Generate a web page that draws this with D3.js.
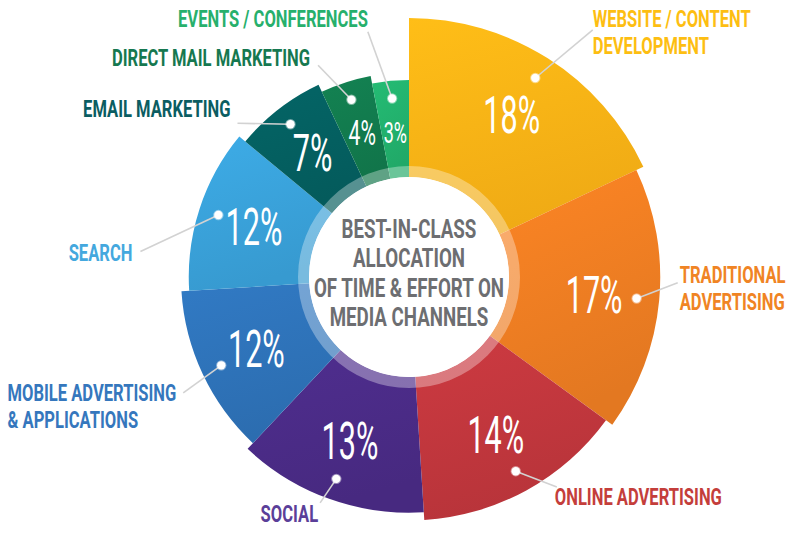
<!DOCTYPE html>
<html><head><meta charset="utf-8">
<script src="https://cdn.jsdelivr.net/npm/d3@7"></script>
<style>html,body{margin:0;padding:0;background:#fff;} svg{display:block;}</style>
</head><body>
<svg id="chart" width="800" height="538"></svg>
<script>
// ---- DATA ----
const categories = [
  "WEBSITE / CONTENT\nDEVELOPMENT",
  "TRADITIONAL\nADVERTISING",
  "ONLINE ADVERTISING",
  "SOCIAL",
  "MOBILE ADVERTISING\n& APPLICATIONS",
  "SEARCH",
  "EMAIL MARKETING",
  "DIRECT MAIL MARKETING",
  "EVENTS / CONFERENCES"
];
const values = [18, 17, 14, 13, 12, 12, 7, 4, 3];
const centerTitle = ["BEST-IN-CLASS", "ALLOCATION", "OF TIME & EFFORT ON", "MEDIA CHANNELS"];

// ---- STYLE ----
const sliceColors = ["#FBB216", "#ED7D22", "#C0363D", "#4A2B86", "#2E72B8", "#39A1D9", "#045F60", "#127A4D", "#22B06D"];
const labelColors = ["#FDBE12", "#F08424", "#C43E3B", "#5B3F99", "#3577BD", "#44A8DE", "#0B5D62", "#167850", "#27B06C"];
const boldFont = "Roboto, 'Liberation Sans', sans-serif";

// ---- LAYOUT ----
const cx = 409, cy = 277, innerR = 100, ringR = 111;
const outerR = d3.scaleLinear().domain([0, values.length - 1]).range([259, 197]);
const pctSize = d3.scaleLinear().domain([3, 7]).range([30, 51]).clamp(true);
// leader: direction (deg, clockwise from north) and length from the dot, then text offset from leader end
const leaders = [
  {dir: 50,  len: 75, tx: 0,  ty: -3},
  {dir: 69,  len: 44, tx: 2,  ty: 0},
  {dir: 111, len: 44, tx: -2, ty: 18},
  {dir: 214, len: 29, tx: -2, ty: 19},
  {dir: 234, len: 47, tx: -7, ty: 8},
  {dir: 245, len: 86, tx: -8, ty: 10},
  {dir: 271, len: 53, tx: -7, ty: -6},
  {dir: 316, len: 48, tx: -8, ty: 1},
  {dir: 340, len: 71, tx: 0,  ty: -5}
];
const sxBold = 0.72, sxPct = 0.6, lineH = 27.5, labelFs = 23, titleFs = 26;

const svg = d3.select("#chart");
const defs = svg.append("defs");
const g = svg.append("g").attr("transform", `translate(${cx},${cy})`);

const pie = d3.pie().sort(null).value(d => d);
const arcs = pie(values);
const polar = (a, r) => [r * Math.sin(a), -r * Math.cos(a)];

arcs.forEach((d, i) => {
  const c = d3.color(sliceColors[i]);
  const gr = defs.append("linearGradient").attr("id", "grad" + i)
    .attr("x1", 0).attr("y1", 0).attr("x2", 0.3).attr("y2", 1);
  gr.append("stop").attr("offset", 0).attr("stop-color", c.brighter(0.18));
  gr.append("stop").attr("offset", 1).attr("stop-color", c.darker(0.12));
});

const arcGen = d3.arc().innerRadius(innerR).outerRadius(d => outerR(d.index));

g.selectAll("path.slice").data(arcs).join("path")
  .attr("class", "slice")
  .attr("d", arcGen)
  .attr("fill", (d, i) => `url(#grad${i})`);

// translucent ring and white centre
g.append("circle").attr("r", (innerR + ringR) / 2).attr("fill", "none")
  .attr("stroke", "#fff").attr("stroke-opacity", 0.33).attr("stroke-width", ringR - innerR);
g.append("circle").attr("r", innerR).attr("fill", "#fff");

// centre title
centerTitle.forEach((t, i) => {
  g.append("text")
    .attr("transform", `translate(0,${5 + (i - 1.5) * 29.3}) scale(${sxBold},1)`)
    .attr("text-anchor", "middle")
    .attr("font-family", boldFont).attr("font-weight", 700)
    .attr("font-size", titleFs).attr("fill", "#6D6E71")
    .text(t);
});

// percentages
arcs.forEach((d, i) => {
  const a = (d.startAngle + d.endAngle) / 2;
  const [x, y] = polar(a, outerR(i) * 0.74);
  const fs = pctSize(d.value);
  g.append("text")
    .attr("transform", `translate(${x},${y + fs * 0.355}) scale(${sxPct},1)`)
    .attr("text-anchor", "middle")
    .attr("font-family", boldFont).attr("font-weight", 400)
    .attr("font-size", fs).attr("fill", "#fff")
    .text(d.value + "%");
});

// leaders, dots and category labels
arcs.forEach((d, i) => {
  const a = (d.startAngle + d.endAngle) / 2;
  const [x0, y0] = polar(a, outerR(i) * 0.91);
  const L = leaders[i];
  const la = L.dir * Math.PI / 180;
  const x1 = x0 + L.len * Math.sin(la), y1 = y0 - L.len * Math.cos(la);
  g.append("line").attr("x1", x0).attr("y1", y0).attr("x2", x1).attr("y2", y1)
    .attr("stroke", "#d2d2d2").attr("stroke-width", 1.6);
  g.append("circle").attr("cx", x0).attr("cy", y0).attr("r", 4.2)
    .attr("fill", "#fff").attr("stroke", "rgba(255,255,255,0.45)").attr("stroke-width", 2);
  const right = Math.sin(la) > 0;
  const lines = categories[i].split("\n");
  const tx = x1 + L.tx, ty = y1 + L.ty;
  const first = g.append("text")
    .attr("transform", `translate(${tx},${ty}) scale(${sxBold},1)`)
    .attr("text-anchor", right ? "start" : "end")
    .attr("font-family", boldFont).attr("font-weight", 700)
    .attr("font-size", labelFs).attr("fill", labelColors[i])
    .text(lines[0]);
  // following lines are left-aligned with the first line
  const leftX = right ? tx : tx - first.node().getComputedTextLength() * sxBold;
  lines.slice(1).forEach((t, j) => {
    g.append("text")
      .attr("transform", `translate(${leftX},${ty + (j + 1) * lineH}) scale(${sxBold},1)`)
      .attr("text-anchor", "start")
      .attr("font-family", boldFont).attr("font-weight", 700)
      .attr("font-size", labelFs).attr("fill", labelColors[i])
      .text(t);
  });
});
</script>
</body></html>
